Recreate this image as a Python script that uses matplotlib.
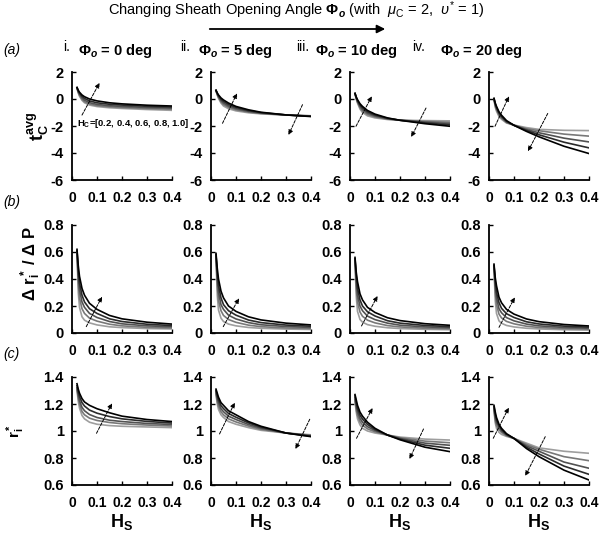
import numpy as np
import matplotlib
matplotlib.use('Agg')
import matplotlib.pyplot as plt

plt.rcParams['font.family'] = ['Liberation Sans', 'DejaVu Sans']
plt.rcParams['mathtext.fontset'] = 'custom'
plt.rcParams['mathtext.rm'] = 'Liberation Sans'
plt.rcParams['mathtext.it'] = 'Liberation Sans:italic'
plt.rcParams['mathtext.bf'] = 'Liberation Sans:bold'
plt.rcParams['mathtext.bfit'] = 'Liberation Sans:italic:bold'

# sheath thickness H_S (x axis)
HS = [0.02, 0.025, 0.03, 0.04, 0.05, 0.07, 0.1, 0.15, 0.2, 0.3, 0.4]
HC = [0.2, 0.4, 0.6, 0.8, 1.0]
phi_o = [0, 5, 10, 20]
roman = ['i.', 'ii.', 'iii.', 'iv.']

# row (a): t_C^avg, one list per H_C (0.2 -> 1.0)
tc_0 = [[0.78, 0.45, 0.2, -0.1, -0.28, -0.45, -0.56, -0.65, -0.7, -0.78, -0.84],
        [0.8, 0.5, 0.27, -0.02, -0.2, -0.37, -0.49, -0.58, -0.63, -0.71, -0.76],
        [0.82, 0.55, 0.35, 0.08, -0.09, -0.27, -0.4, -0.5, -0.55, -0.63, -0.68],
        [0.84, 0.6, 0.43, 0.19, 0.04, -0.14, -0.28, -0.39, -0.45, -0.54, -0.6],
        [0.86, 0.65, 0.5, 0.3, 0.17, 0.0, -0.14, -0.28, -0.36, -0.46, -0.52]]
tc_5 = [[0.6, 0.3, 0.05, -0.3, -0.52, -0.72, -0.88, -1.02, -1.1, -1.19, -1.24],
        [0.61, 0.34, 0.11, -0.21, -0.41, -0.62, -0.8, -0.97, -1.07, -1.19, -1.25],
        [0.62, 0.38, 0.18, -0.12, -0.3, -0.52, -0.72, -0.92, -1.04, -1.18, -1.27],
        [0.64, 0.42, 0.24, -0.02, -0.18, -0.41, -0.63, -0.86, -1.01, -1.18, -1.28],
        [0.65, 0.45, 0.3, 0.08, -0.07, -0.3, -0.55, -0.8, -0.98, -1.18, -1.3]]
tc_10 = [[0.38, 0.0, -0.3, -0.75, -1.0, -1.25, -1.4, -1.52, -1.57, -1.6, -1.62],
         [0.39, 0.04, -0.24, -0.65, -0.89, -1.15, -1.33, -1.49, -1.57, -1.66, -1.72],
         [0.4, 0.08, -0.18, -0.55, -0.78, -1.05, -1.26, -1.46, -1.57, -1.71, -1.82],
         [0.41, 0.12, -0.11, -0.45, -0.66, -0.95, -1.19, -1.43, -1.57, -1.77, -1.92],
         [0.42, 0.15, -0.05, -0.35, -0.55, -0.85, -1.12, -1.4, -1.58, -1.83, -2.02]]
tc_20 = [[-0.05, -0.6, -0.9, -1.3, -1.5, -1.78, -1.93, -2.12, -2.25, -2.32, -2.34],
         [-0.03, -0.5, -0.8, -1.2, -1.42, -1.74, -1.94, -2.2, -2.35, -2.6, -2.75],
         [0.0, -0.42, -0.7, -1.1, -1.35, -1.7, -1.95, -2.27, -2.5, -2.9, -3.18],
         [0.03, -0.35, -0.62, -1.03, -1.28, -1.65, -1.95, -2.33, -2.65, -3.2, -3.62],
         [0.05, -0.3, -0.55, -0.95, -1.2, -1.6, -1.95, -2.4, -2.8, -3.5, -4.04]]

# row (b): delta r_i* / delta P
dr_0 = [[0.59, 0.30, 0.19, 0.12, 0.095, 0.075, 0.06, 0.046, 0.04, 0.033, 0.03],
        [0.60, 0.37, 0.26, 0.18, 0.145, 0.11, 0.088, 0.065, 0.053, 0.042, 0.037],
        [0.61, 0.42, 0.32, 0.23, 0.19, 0.145, 0.115, 0.085, 0.068, 0.053, 0.046],
        [0.61, 0.46, 0.37, 0.28, 0.23, 0.18, 0.145, 0.105, 0.085, 0.065, 0.055],
        [0.62, 0.50, 0.42, 0.33, 0.28, 0.22, 0.175, 0.13, 0.105, 0.08, 0.066]]
dr_5 = [[0.56, 0.28, 0.17, 0.11, 0.085, 0.066, 0.053, 0.041, 0.035, 0.029, 0.026],
        [0.57, 0.35, 0.24, 0.165, 0.13, 0.1, 0.079, 0.058, 0.047, 0.037, 0.033],
        [0.58, 0.40, 0.30, 0.21, 0.175, 0.132, 0.104, 0.077, 0.061, 0.048, 0.041],
        [0.58, 0.44, 0.35, 0.26, 0.21, 0.165, 0.132, 0.096, 0.077, 0.059, 0.05],
        [0.59, 0.48, 0.40, 0.31, 0.26, 0.2, 0.16, 0.12, 0.097, 0.073, 0.06]]
dr_10 = [[0.53, 0.27, 0.16, 0.1, 0.08, 0.062, 0.05, 0.039, 0.033, 0.027, 0.024],
         [0.54, 0.33, 0.23, 0.155, 0.124, 0.095, 0.075, 0.055, 0.045, 0.035, 0.031],
         [0.55, 0.38, 0.28, 0.2, 0.165, 0.125, 0.099, 0.073, 0.058, 0.045, 0.039],
         [0.55, 0.42, 0.33, 0.245, 0.2, 0.157, 0.126, 0.091, 0.073, 0.056, 0.047],
         [0.56, 0.45, 0.38, 0.29, 0.245, 0.19, 0.152, 0.113, 0.092, 0.069, 0.057]]
dr_20 = [[0.48, 0.24, 0.145, 0.09, 0.072, 0.056, 0.045, 0.035, 0.03, 0.024, 0.021],
         [0.49, 0.30, 0.21, 0.14, 0.112, 0.086, 0.068, 0.05, 0.041, 0.032, 0.028],
         [0.50, 0.35, 0.26, 0.18, 0.15, 0.114, 0.09, 0.066, 0.053, 0.041, 0.035],
         [0.50, 0.38, 0.30, 0.225, 0.183, 0.143, 0.115, 0.083, 0.067, 0.051, 0.043],
         [0.51, 0.41, 0.35, 0.265, 0.224, 0.175, 0.14, 0.104, 0.084, 0.063, 0.052]]

# row (c): r_i*
ri_0 = [[1.30, 1.22, 1.17, 1.115, 1.09, 1.065, 1.05, 1.04, 1.035, 1.03, 1.025],
        [1.31, 1.245, 1.2, 1.145, 1.12, 1.095, 1.078, 1.063, 1.054, 1.044, 1.037],
        [1.32, 1.265, 1.225, 1.175, 1.15, 1.122, 1.1, 1.08, 1.07, 1.056, 1.048],
        [1.335, 1.29, 1.255, 1.21, 1.185, 1.155, 1.132, 1.107, 1.09, 1.071, 1.059],
        [1.35, 1.31, 1.28, 1.24, 1.215, 1.19, 1.165, 1.135, 1.11, 1.085, 1.07]]
ri_5 = [[1.27, 1.2, 1.16, 1.12, 1.1, 1.07, 1.05, 1.025, 1.005, 0.985, 0.972],
        [1.28, 1.22, 1.185, 1.143, 1.12, 1.09, 1.067, 1.037, 1.012, 0.985, 0.968],
        [1.29, 1.24, 1.208, 1.165, 1.143, 1.11, 1.085, 1.048, 1.02, 0.985, 0.965],
        [1.30, 1.26, 1.23, 1.188, 1.166, 1.13, 1.102, 1.06, 1.028, 0.985, 0.961],
        [1.31, 1.28, 1.25, 1.21, 1.19, 1.15, 1.12, 1.07, 1.035, 0.985, 0.958]]
ri_10 = [[1.22, 1.14, 1.09, 1.045, 1.02, 1.0, 0.985, 0.97, 0.955, 0.94, 0.933],
         [1.23, 1.16, 1.115, 1.07, 1.043, 1.016, 0.994, 0.97, 0.95, 0.925, 0.913],
         [1.245, 1.185, 1.14, 1.093, 1.065, 1.032, 1.003, 0.97, 0.945, 0.91, 0.894],
         [1.26, 1.205, 1.165, 1.117, 1.088, 1.049, 1.011, 0.97, 0.94, 0.895, 0.872],
         [1.27, 1.23, 1.19, 1.14, 1.11, 1.065, 1.02, 0.97, 0.935, 0.88, 0.847]]
ri_20 = [[1.15, 1.06, 1.02, 0.99, 0.975, 0.96, 0.945, 0.91, 0.875, 0.85, 0.835],
         [1.16, 1.08, 1.04, 1.01, 0.99, 0.965, 0.945, 0.9, 0.865, 0.81, 0.78],
         [1.17, 1.1, 1.06, 1.03, 1.0, 0.97, 0.945, 0.89, 0.85, 0.77, 0.724],
         [1.18, 1.12, 1.08, 1.04, 1.01, 0.975, 0.945, 0.88, 0.83, 0.74, 0.679],
         [1.19, 1.14, 1.1, 1.05, 1.02, 0.98, 0.945, 0.87, 0.81, 0.71, 0.637]]

rows = [[tc_0, tc_5, tc_10, tc_20],
        [dr_0, dr_5, dr_10, dr_20],
        [ri_0, ri_5, ri_10, ri_20]]

ylims = [(-6, 2), (0, 0.8), (0.6, 1.4)]
yticks = [[-6, -4, -2, 0, 2], [0, 0.2, 0.4, 0.6, 0.8], [0.6, 0.8, 1.0, 1.2, 1.4]]
ytlabels = [['-6', '-4', '-2', '0', '2'], ['0', '0.2', '0.4', '0.6', '0.8'],
            ['0.6', '0.8', '1', '1.2', '1.4']]
xticks = [0, 0.1, 0.2, 0.3, 0.4]
xtlabels = ['0', '0.1', '0.2', '0.3', '0.4']
grays = ['0.62', '0.47', '0.32', '0.17', '0.0']

# direction arrows (start, end) in data coords per panel
arrows = [
    [[((0.04, -1.19), (0.11, 1.19))],
     [((0.046, -1.8), (0.104, 0.42)), ((0.366, -0.42), (0.31, -2.66))],
     [((0.024, -2.02), (0.087, 0.2)), ((0.304, -0.67), (0.245, -2.81))],
     [((0.024, -2.02), (0.08, 0.2)), ((0.235, -1.07), (0.156, -3.87))]],
    [[((0.057, 0.047), (0.12, 0.269))],
     [((0.049, 0.047), (0.112, 0.257))],
     [((0.046, 0.052), (0.11, 0.274))],
     [((0.04, 0.042), (0.103, 0.264))]],
    [[((0.098, 0.983), (0.16, 1.205))],
     [((0.034, 0.978), (0.095, 1.21)), ((0.395, 1.087), (0.338, 0.867))],
     [((0.026, 0.946), (0.09, 1.17)), ((0.294, 1.015), (0.238, 0.793))],
     [((0.017, 0.946), (0.079, 1.173)), ((0.225, 0.958), (0.145, 0.667))]],
]

W, H = 600, 533
fig = plt.figure(figsize=(6, 5.33), dpi=100)

lefts = [72, 211, 350, 489]
tops = [72, 225, 377]
aw, ah = 100, 108

axes = []
for r in range(3):
    for c in range(4):
        ax = fig.add_axes([lefts[c] / W, 1 - (tops[r] + ah) / H, aw / W, ah / H])
        for k, yv in enumerate(rows[r][c]):
            ax.plot(HS, yv, color=grays[k], lw=1.2, solid_joinstyle='round')
        ax.set_xlim(0, 0.4)
        ax.set_ylim(*ylims[r])
        ax.set_xticks(xticks)
        ax.set_xticklabels(xtlabels, fontsize=10, fontweight='bold')
        ax.set_yticks(yticks[r])
        ax.set_yticklabels(ytlabels[r], fontsize=10.5, fontweight='bold')
        ax.tick_params(direction='in', length=3, width=1.0)
        ax.tick_params(axis='x', pad=8)
        ax.tick_params(axis='y', pad=6)
        for s in ['top', 'right']:
            ax.spines[s].set_visible(False)
        for s in ['left', 'bottom']:
            ax.spines[s].set_linewidth(1.3)
        for (x0, y0), (x1, y1) in arrows[r][c]:
            ax.annotate('', xy=(x1, y1), xytext=(x0, y0),
                        arrowprops=dict(arrowstyle='-|>', lw=0.7, color='k',
                                        linestyle=(0, (3, 1.5)), mutation_scale=7,
                                        shrinkA=0, shrinkB=0))
        if r == 2:
            ax.set_xlabel(r'$\mathbf{H_S}$', fontsize=13, labelpad=1)
        axes.append(ax)

# y labels
axes[0].set_ylabel(r'$\mathbf{t_C^{avg}}$', fontsize=13)
axes[0].yaxis.set_label_coords(-0.21, 0.5)
axes[4].set_ylabel(r'$\mathbf{\Delta\ r_i^*\ /\ \Delta\ P}$', fontsize=12)
axes[4].yaxis.set_label_coords(-0.29, 0.64)
axes[8].set_ylabel(r'$\mathbf{r_i^*}$', fontsize=11)
axes[8].yaxis.set_label_coords(-0.45, 0.5)

# H_C annotation
axes[0].text(0.02, -1.8, r'$\mathbf{H_C}$=[0.2, 0.4, 0.6, 0.8, 1.0]',
             fontsize=6.8, fontweight='bold', va='center', ha='left')

# title and arrow
fig.text(296 / W, 1 - 10 / H,
         r'Changing Sheath Opening Angle $\mathbf{\Phi}_{\mathbfit{o}}$ (with  $\mathit{\mu}_{\mathrm{C}}$ = 2,  $\mathit{\upsilon}^{*}$ = 1)',
         ha='center', va='center', fontsize=10.5)
fig.patches.append(matplotlib.patches.FancyArrowPatch(
    (207 / W, 1 - 29 / H), (388 / W, 1 - 29 / H), transform=fig.transFigure,
    arrowstyle='-|>', mutation_scale=12, lw=1.3, color='k'))

# column headings
roman_x = [63, 180, 296, 412]
phi_x = [78, 198, 315, 440]
for c in range(4):
    fig.text(roman_x[c] / W, 1 - 47 / H, roman[c], fontsize=10, ha='left', va='center')
    fig.text(phi_x[c] / W, 1 - 51 / H,
             r'$\mathbf{\Phi}_{\mathbfit{o}}$ = %d deg' % phi_o[c],
             fontsize=10.5, fontweight='bold', ha='left', va='center')

# row labels
for lab, yy in zip(['(a)', '(b)', '(c)'], [50, 202, 354]):
    fig.text(3 / W, 1 - yy / H, lab, fontsize=10, style='italic', ha='left', va='center')

fig.savefig('out.png', dpi=100)
